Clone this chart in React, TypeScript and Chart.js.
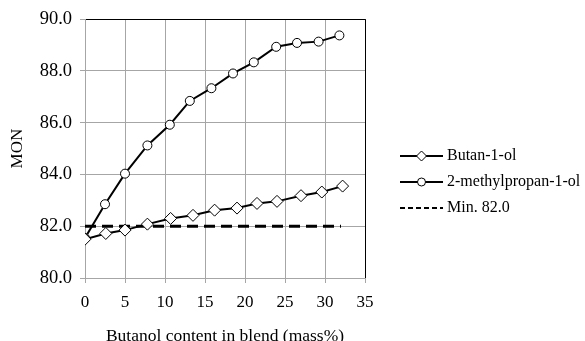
import React, { useEffect, useRef } from "react";
import { Chart, registerables } from "chart.js";

Chart.register(...registerables);

const butanolX = [0, 2.6, 5.0, 7.8, 10.7, 13.5, 16.2, 19.0, 21.5, 24.0, 27.0, 29.6, 32.2];
const butanolY = [81.5, 81.72, 81.85, 82.08, 82.3, 82.42, 82.62, 82.7, 82.88, 82.96, 83.18, 83.32, 83.55];
const methylX = [0, 2.5, 5.0, 7.8, 10.6, 13.1, 15.8, 18.5, 21.1, 23.9, 26.5, 29.2, 31.8];
const methylY = [81.55, 82.85, 84.03, 85.12, 85.92, 86.84, 87.33, 87.9, 88.33, 88.93, 89.08, 89.13, 89.37];
const minX = [0, 32];
const minY = [82.0, 82.0];
const seriesNames = ["Butan-1-ol", "2-methylpropan-1-ol", "Min. 82.0"];

const FONT = "'Liberation Serif', 'Times New Roman', serif";

const legendPlugin = {
  id: "customLegend",
  afterDraw(chart: any) {
    const ctx = chart.ctx;
    const x0 = 400;
    const x1 = 443;
    const rows = [156, 182, 208];
    ctx.save();
    chart.data.datasets.forEach((ds: any, i: number) => {
      const y = rows[i];
      ctx.beginPath();
      ctx.strokeStyle = "#000";
      ctx.lineWidth = 2;
      ctx.setLineDash(i === 2 ? [5, 3] : []);
      ctx.moveTo(x0, y);
      ctx.lineTo(x1, y);
      ctx.stroke();
      ctx.setLineDash([]);
      if (i === 0) {
        const cx = (x0 + x1) / 2;
        const r = 5;
        ctx.beginPath();
        ctx.moveTo(cx, y - r);
        ctx.lineTo(cx + r, y);
        ctx.lineTo(cx, y + r);
        ctx.lineTo(cx - r, y);
        ctx.closePath();
        ctx.fillStyle = "#fff";
        ctx.fill();
        ctx.lineWidth = 1;
        ctx.stroke();
      } else if (i === 1) {
        const cx = (x0 + x1) / 2;
        ctx.beginPath();
        ctx.arc(cx, y, 4, 0, Math.PI * 2);
        ctx.fillStyle = "#fff";
        ctx.fill();
        ctx.lineWidth = 1;
        ctx.stroke();
      }
      ctx.fillStyle = "#000";
      ctx.font = `16px ${FONT}`;
      ctx.textBaseline = "middle";
      ctx.textAlign = "left";
      ctx.fillText(ds.label, x1 + 4, y);
    });
    ctx.restore();
  },
};

export default function App() {
  const ref = useRef<HTMLCanvasElement | null>(null);

  useEffect(() => {
    document.body.style.margin = "0";
    const canvas = ref.current;
    if (!canvas) return;
    const toPts = (xs: number[], ys: number[]) => xs.map((x, i) => ({ x, y: ys[i] }));
    const chart = new Chart(canvas, {
      type: "line",
      data: {
        datasets: [
          {
            label: seriesNames[0],
            data: toPts(butanolX, butanolY),
            borderColor: "#000",
            borderWidth: 2,
            pointStyle: "rectRot",
            pointRadius: 6,
            pointBackgroundColor: "#fff",
            pointBorderColor: "#000",
            pointBorderWidth: 1,
            tension: 0,
          },
          {
            label: seriesNames[1],
            data: toPts(methylX, methylY),
            borderColor: "#000",
            borderWidth: 2,
            pointStyle: "circle",
            pointRadius: 4.5,
            pointBackgroundColor: "#fff",
            pointBorderColor: "#000",
            pointBorderWidth: 1,
            tension: 0,
          },
          {
            label: seriesNames[2],
            data: toPts(minX, minY),
            borderColor: "#000",
            borderWidth: 3,
            borderDash: [11, 6],
            pointRadius: 0,
            tension: 0,
          },
        ],
      },
      options: {
        responsive: false,
        animation: false,
        layout: { padding: { left: 0, right: 220, top: 10, bottom: 0 } },
        plugins: { legend: { display: false }, tooltip: { enabled: false } },
        scales: {
          x: {
            type: "linear",
            min: 0,
            max: 35,
            ticks: { stepSize: 5, color: "#000", font: { family: FONT, size: 17 }, padding: 9 },
            grid: {
              color: (c: any) => (c.tick && c.tick.value === 35 ? "#000" : "#a6a6a6"),
              tickColor: "#a6a6a6",
              tickLength: 5,
              lineWidth: 1,
            },
            border: { color: "#a6a6a6" },
            title: {
              display: true,
              text: "Butanol content in blend (mass%)",
              color: "#000",
              font: { family: FONT, size: 17.5 },
              padding: { top: 0, bottom: -6 },
            },
            afterFit: (s: any) => {
              s.height = 63;
            },
          },
          y: {
            min: 80,
            max: 90,
            ticks: {
              stepSize: 2,
              color: "#000",
              font: { family: FONT, size: 18.5 },
              padding: 8,
              callback: (v: any) => Number(v).toFixed(1),
            },
            grid: {
              color: (c: any) => (c.tick && c.tick.value === 90 ? "#000" : "#a6a6a6"),
              tickColor: "#a6a6a6",
              tickLength: 5,
              lineWidth: 1,
            },
            border: { color: "#a6a6a6" },
            title: {
              display: true,
              text: "MON",
              color: "#000",
              font: { family: FONT, size: 17 },
              padding: { top: 7, bottom: 0 },
            },
            afterFit: (s: any) => {
              s.width = 85;
            },
          },
        },
      },
      plugins: [legendPlugin],
    });
    return () => chart.destroy();
  }, []);

  return (
    <div style={{ position: "absolute", left: 0, top: 0, width: 585, height: 341, background: "#fff" }}>
      <canvas ref={ref} width={585} height={341} style={{ width: 585, height: 341, display: "block" }} />
    </div>
  );
}
